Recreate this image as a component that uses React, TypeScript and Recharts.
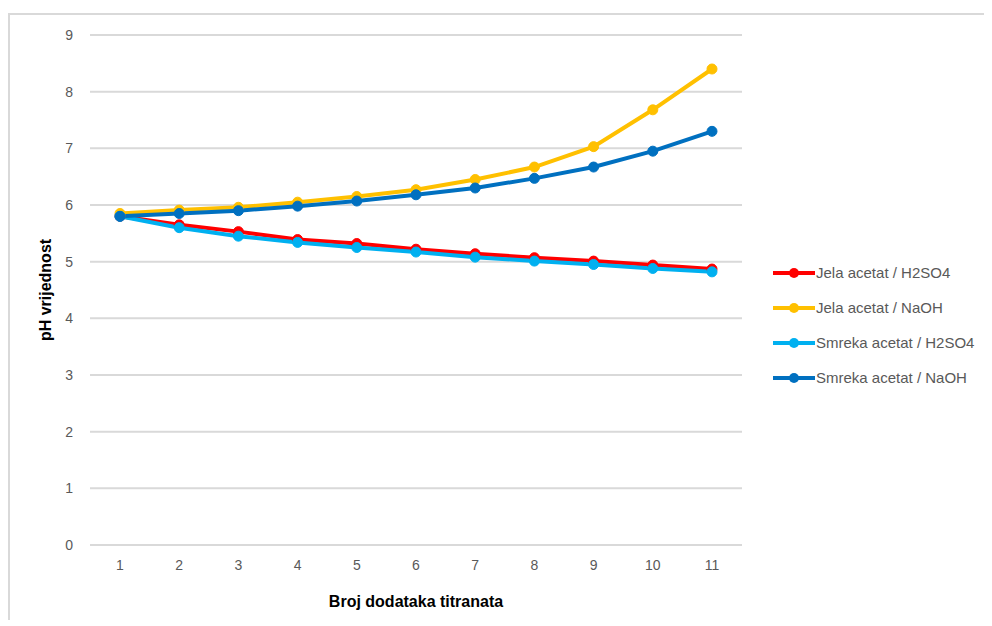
import React from 'react';
import { LineChart, Line, XAxis, YAxis, CartesianGrid, Legend, Label } from 'recharts';

const categories = ['1', '2', '3', '4', '5', '6', '7', '8', '9', '10', '11'];
const jelaH2SO4 = [5.8, 5.65, 5.53, 5.39, 5.32, 5.22, 5.14, 5.07, 5.01, 4.94, 4.87];
const jelaNaOH = [5.85, 5.91, 5.96, 6.05, 6.15, 6.27, 6.45, 6.67, 7.03, 7.68, 8.4];
const smrekaH2SO4 = [5.8, 5.6, 5.45, 5.34, 5.25, 5.17, 5.08, 5.01, 4.95, 4.88, 4.82];
const smrekaNaOH = [5.8, 5.85, 5.9, 5.98, 6.07, 6.18, 6.3, 6.47, 6.67, 6.95, 7.3];
const yTicks = [0, 1, 2, 3, 4, 5, 6, 7, 8, 9];

const SERIES = [
    { key: 'jelaH2SO4', name: 'Jela acetat / H2SO4', color: '#FF0000' },
    { key: 'jelaNaOH', name: 'Jela acetat / NaOH', color: '#FFC000' },
    { key: 'smrekaH2SO4', name: 'Smreka acetat / H2SO4', color: '#00B0F0' },
    { key: 'smrekaNaOH', name: 'Smreka acetat / NaOH', color: '#0070C0' },
];

const data = categories.map((x, i) => ({
    x,
    jelaH2SO4: jelaH2SO4[i],
    jelaNaOH: jelaNaOH[i],
    smrekaH2SO4: smrekaH2SO4[i],
    smrekaNaOH: smrekaNaOH[i],
}));

const FONT = '"Liberation Sans", Arial, sans-serif';
const TEXT = '#595959';

const renderLegend = () => (
    <div style={{ fontFamily: FONT, fontSize: 15, color: TEXT }}>
        {SERIES.map((s) => (
            <div key={s.key} style={{ height: 35, display: 'flex', alignItems: 'center' }}>
                <svg width={42} height={12} style={{ marginRight: 1 }}>
                    <line x1={0} y1={6} x2={42} y2={6} stroke={s.color} strokeWidth={4} />
                    <circle cx={21} cy={6} r={5} fill={s.color} />
                </svg>
                <span>{s.name}</span>
            </div>
        ))}
    </div>
);

export default function App() {
    return (
        <div style={{ position: 'relative', width: 984, height: 612 }}>
            <div
                style={{
                    position: 'absolute',
                    left: 0,
                    top: 5,
                    width: 990,
                    height: 620,
                    borderTop: '2px solid #d9d9d9',
                    borderLeft: '2px solid #d9d9d9',
                    boxSizing: 'border-box',
                }}
            />
            <LineChart
                width={984}
                height={610}
                data={data}
                margin={{ top: 27, right: 250, bottom: 0, left: 0 }}
                style={{ position: 'absolute', left: 0, top: 0 }}
            >
                <CartesianGrid vertical={false} stroke="#d9d9d9" strokeWidth={2} />
                <XAxis
                    dataKey="x"
                    axisLine={false}
                    tickLine={false}
                    tickSize={0}
                    tickMargin={15}
                    height={73}
                    padding={{ left: 30, right: 30 }}
                    tick={{ fill: TEXT, fontSize: 14, fontFamily: FONT }}
                >
                    <Label
                        value="Broj dodataka titranata"
                        position="insideBottom"
                        offset={11}
                        style={{ fill: '#000', fontSize: 16, fontWeight: 'bold', fontFamily: FONT }}
                    />
                </XAxis>
                <YAxis
                    domain={[0, 9]}
                    ticks={yTicks}
                    interval={0}
                    width={82}
                    axisLine={false}
                    tickLine={false}
                    tickSize={0}
                    tickMargin={17}
                    tick={{ fill: TEXT, fontSize: 14, fontFamily: FONT }}
                >
                    <Label
                        value="pH vrijednost"
                        angle={-90}
                        position="insideLeft"
                        offset={37}
                        style={{ textAnchor: 'middle', fill: '#000', fontSize: 16, fontWeight: 'bold', fontFamily: FONT }}
                    />
                </YAxis>
                <Legend
                    layout="vertical"
                    align="center"
                    verticalAlign="middle"
                    content={renderLegend}
                    wrapperStyle={{ left: 765, top: 247, width: 219 }}
                />
                {SERIES.map((s) => (
                    <Line
                        key={s.key}
                        dataKey={s.key}
                        name={s.name}
                        stroke={s.color}
                        strokeWidth={4}
                        dot={{ r: 5, fill: s.color, stroke: s.color, strokeWidth: 1 }}
                        activeDot={false}
                        isAnimationActive={false}
                    />
                ))}
            </LineChart>
        </div>
    );
}
